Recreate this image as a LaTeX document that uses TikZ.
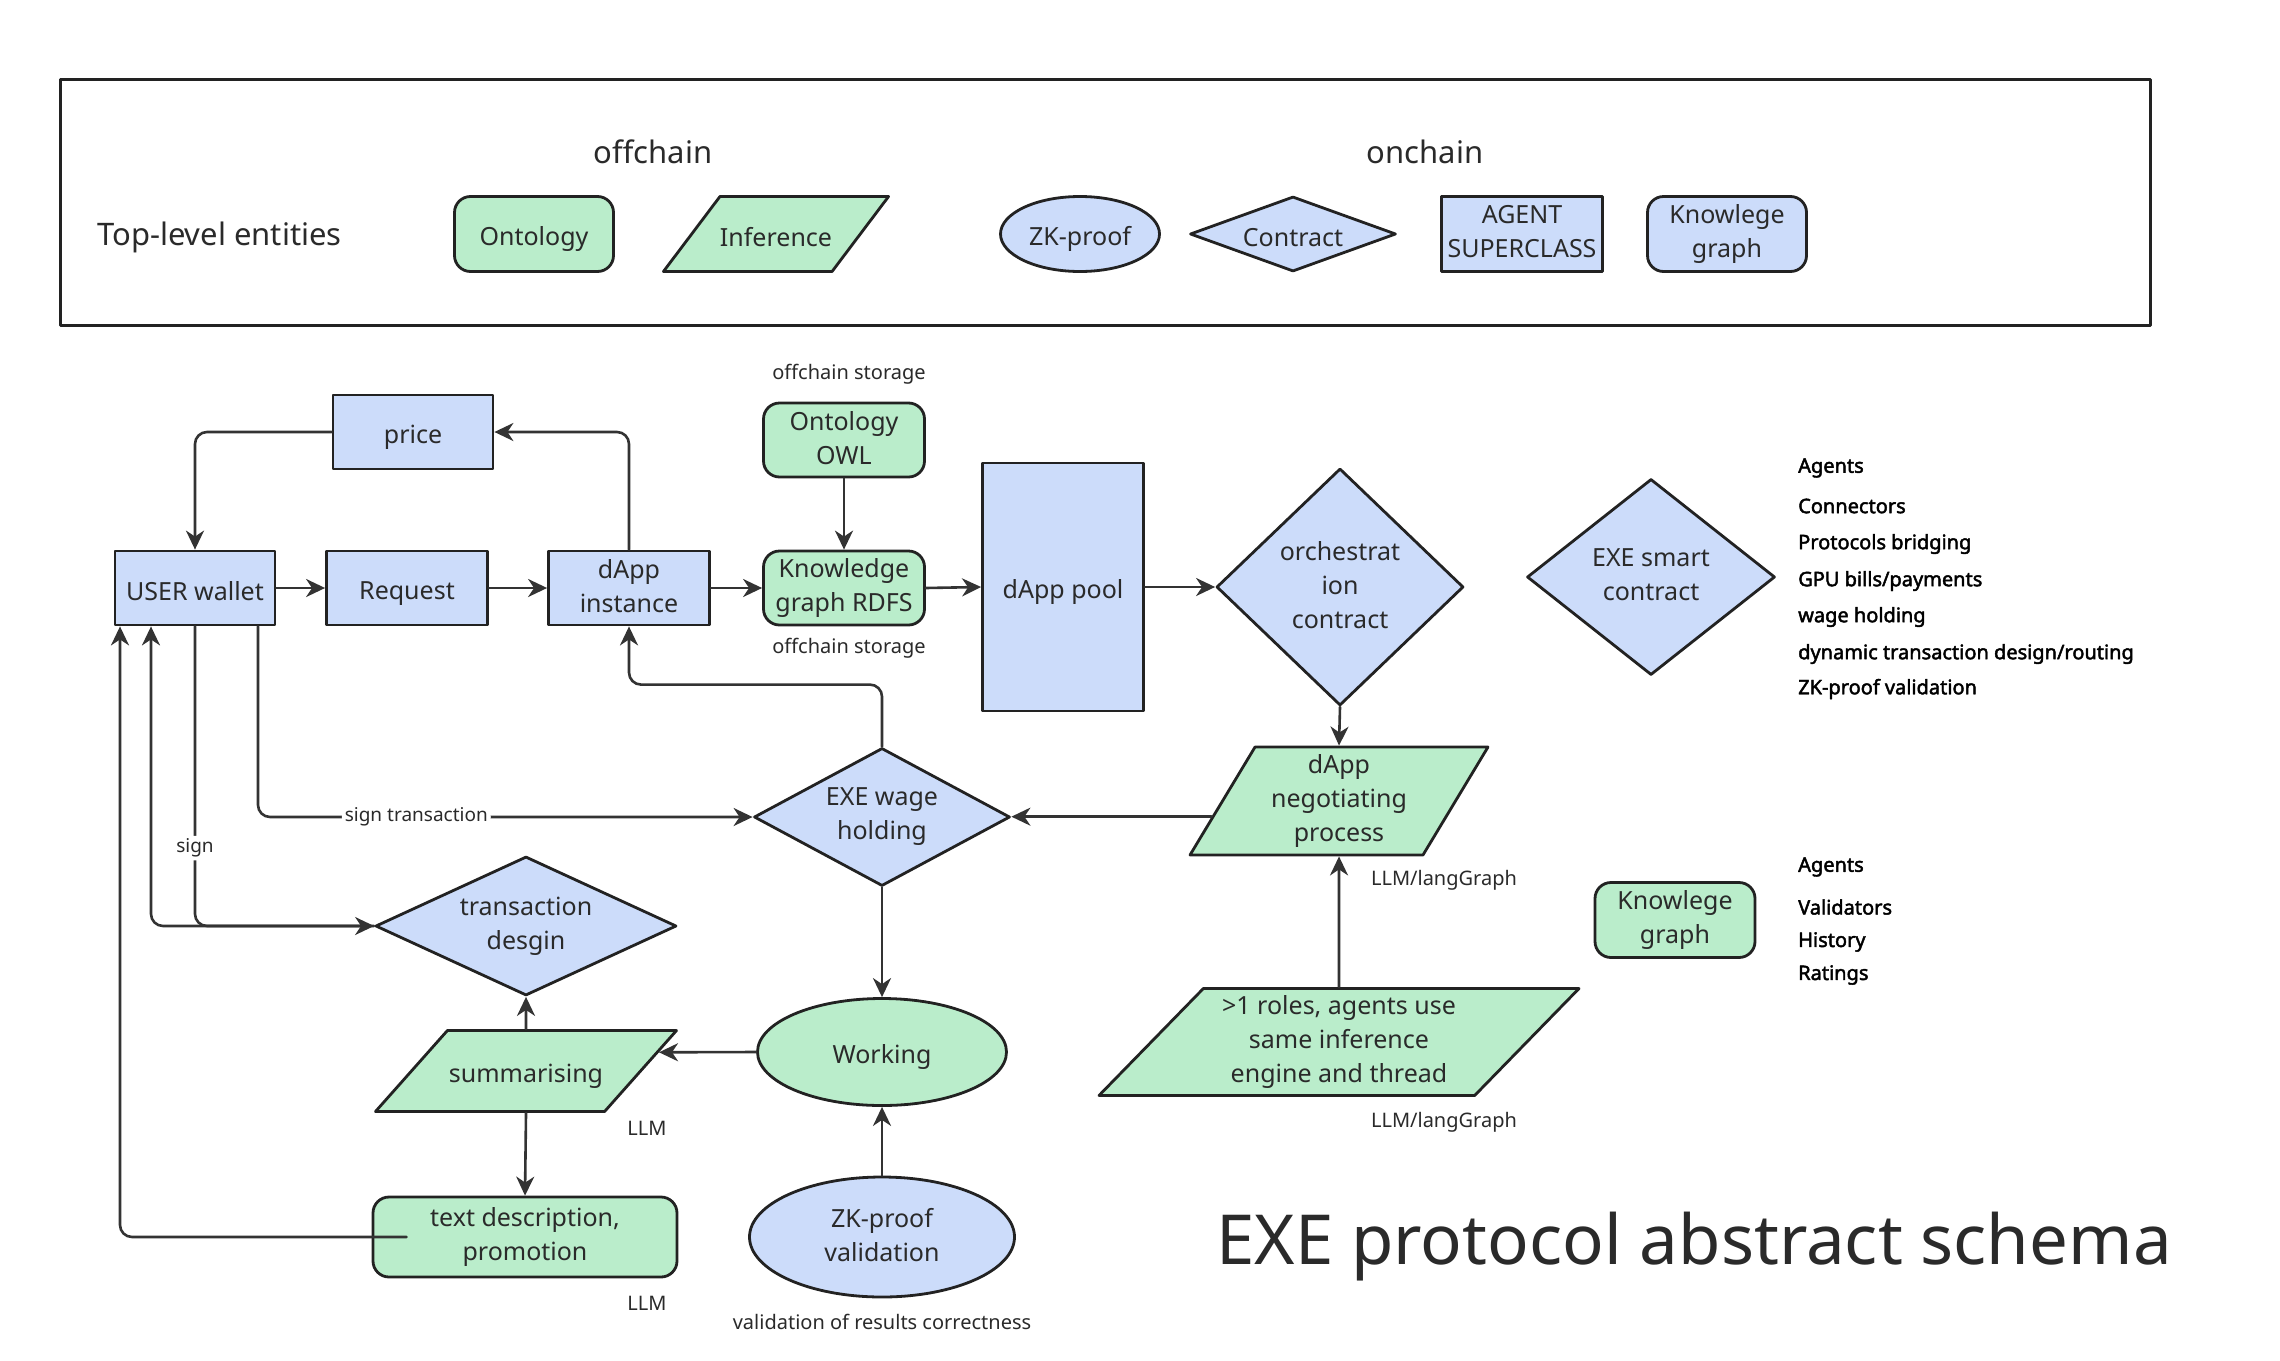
\documentclass[tikz,border=0pt]{standalone}
\usepackage{fontspec}
\setmainfont{Noto Sans}
\newfontfamily\listfont{Noto Sans}[FakeBold=2.2]
\usetikzlibrary{arrows.meta,shapes.geometric,positioning}
\definecolor{exeBlue}{HTML}{CCDCFA}
\definecolor{exeGreen}{HTML}{BAEDCB}
\definecolor{exeEdge}{HTML}{222222}
\definecolor{exeLine}{HTML}{333333}
\definecolor{exeInk}{HTML}{2A2A2A}
\newcommand\exeStrut{\rule[-5pt]{0pt}{34pt}}

\begin{document}
\begin{tikzpicture}[x=1pt,y=-1pt,>=Stealth,line cap=round,line join=round]
\path[fill=white] (0,0) rectangle (2280,1360);
\tikzset{shapebase/.style={draw=exeEdge,line width=2.8pt,text=exeInk,align=center,inner sep=0pt,font=\fontsize{25}{34}\selectfont,execute at begin node=\exeStrut,execute at end node=\exeStrut},
  bluebox/.style={shapebase,fill=exeBlue,rectangle},
  blueround/.style={bluebox,rounded corners=16pt},
  greenround/.style={shapebase,fill=exeGreen,rectangle,rounded corners=16pt},
  bluediamond/.style={shapebase,fill=exeBlue,diamond,shape aspect=#1},
  blueoval/.style={shapebase,fill=exeBlue,ellipse},
  greenoval/.style={shapebase,fill=exeGreen,ellipse},
  greenpara/.style={shapebase,fill=exeGreen,trapezium,/utils/exec={\pgfmathsetmacro\paraRight{180-#1}},trapezium left angle=#1,trapezium right angle=\paraRight,trapezium stretches body},
  link/.style={draw=exeLine,line width=2.6pt,rounded corners=12pt,-{Stealth[length=19pt,width=18pt,inset=6pt]}},
  tag/.style={fill=white,inner sep=3pt,text=exeInk,font=\fontsize{19}{23}\selectfont},
  note/.style={text=exeInk,inner sep=0pt,font=\fontsize{20}{24}\selectfont},
  listitem/.style={anchor=west,text=black,inner sep=0pt,font=\listfont\fontsize{20}{24}\selectfont},
  heading/.style={text=exeInk,inner sep=0pt,font=\fontsize{31}{37}\selectfont}}
% legend
\draw[draw=exeEdge,line width=3pt] (60,79) rectangle (2150,325);
\node[heading,anchor=west] (legTitle) at (97,237) {Top-level entities};
\node[heading] (legOff) at (653,152) {offchain};
\node[heading] (legOn) at (1425,152) {onchain};
\node[greenround,minimum width=159,minimum height=75] (legOnto) at (534,234) {Ontology};
\node[greenpara=53,inner ysep=20.5pt,minimum width=217,minimum height=75] (legInfer) at (776,234) {Inference};
\node[blueoval,minimum width=159,minimum height=75] (legZk) at (1080,234) {ZK-proof};
\node[bluediamond=2.75,minimum width=206,minimum height=75] (legContract) at (1293,234) {Contract};
\node[bluebox,minimum width=161,minimum height=75] (legAgent) at (1522,234) {AGENT\\SUPERCLASS};
\node[blueround,minimum width=159,minimum height=75] (legKg) at (1727,234) {Knowlege\\graph};
% main flow
\node[bluebox,minimum width=160,minimum height=74] (price) at (413,432) {price};
\node[bluebox,minimum width=160,minimum height=74] (wallet) at (195,588) {USER wallet};
\node[bluebox,minimum width=161,minimum height=74] (request) at (407,588) {Request};
\node[bluebox,minimum width=161,minimum height=74] (dapp) at (629,588) {dApp\\instance};
\node[greenround,minimum width=161,minimum height=74] (owl) at (844,440) {Ontology\\OWL};
\node[greenround,minimum width=161,minimum height=74] (kgrdfs) at (844,588) {Knowledge\\graph RDFS};
\node[note] (storTop) at (849,374) {offchain storage};
\node[note] (storBot) at (849,648) {offchain storage};
\node[bluebox,minimum width=161,minimum height=248] (pool) at (1063,587) {dApp pool};
\node[bluediamond=1.04,minimum width=247,minimum height=237] (orch) at (1340,587) {orchestrat\\ion\\contract};
\node[bluediamond=1.27,minimum width=248,minimum height=196] (smart) at (1651,577) {EXE smart\\contract};
\node[bluediamond=1.86,minimum width=256,minimum height=138] (wage) at (882,817) {EXE wage\\holding};
\node[greenpara=56.7,inner ysep=3pt,minimum width=298,minimum height=108] (nego) at (1339,801) {dApp\\negotiating\\process};
\node[note] (lgTop) at (1444,880) {LLM/langGraph};
\node[greenpara=43.2,inner ysep=2.5pt,minimum width=480,minimum height=107] (roles) at (1339,1042) {>1 roles, agents use\\same inference\\engine and thread};
\node[note] (lgBot) at (1444,1122) {LLM/langGraph};
\node[bluediamond=2.17,minimum width=301,minimum height=139] (txd) at (526,926) {transaction\\desgin};
\node[greenpara=48.4,inner ysep=23pt,minimum width=301,minimum height=80] (sum) at (526,1071) {summarising};
\node[note] (llmSum) at (647,1128) {LLM};
\node[greenoval,minimum width=249,minimum height=107] (work) at (882,1052) {Working};
\node[greenround,minimum width=304,minimum height=80] (text) at (525,1237) {text description,\\promotion};
\node[note] (llmText) at (647,1303) {LLM};
\node[blueoval,minimum width=265,minimum height=120] (zkval) at (882,1237) {ZK-proof\\validation};
\node[note] (corr) at (882,1322) {validation of results correctness};
\node[greenround,minimum width=160,minimum height=75] (kgside) at (1675,920) {Knowlege\\graph};
% side lists
\foreach \txt/\yy [count=\i] in {Agents/468,Connectors/506,Protocols bridging/544,{GPU bills/payments}/581,wage holding/617,{dynamic transaction design/routing}/654,ZK-proof validation/689}
  \node[listitem] (scItem\i) at (1798,\yy) {\txt};
\foreach \txt/\yy [count=\i] in {Agents/867,Validators/907,History/942,Ratings/975}
  \node[listitem] (kgItem\i) at (1798,\yy) {\txt};
\node[anchor=base,text=exeInk,inner sep=0pt,font=\fontsize{69}{84}\selectfont] (title) at (1694,1264) {EXE protocol abstract schema};
% connectors
\draw[link] (price.west) -| (wallet.north);
\draw[link] (dapp.north) |- (price.east);
\draw[link] (wallet.east) -- (request.west);
\draw[link] (request.east) -- (dapp.west);
\draw[link] (dapp.east) -- (kgrdfs.west);
\draw[link] (kgrdfs.east) -- (pool.west);
\draw[link] (pool.east) -- (orch.west);
\draw[link] (owl.south) -- (kgrdfs.north);
\draw[link] (orch.south) -- (nego.north);
\draw[link] (nego.187) -- (nego.187 -| wage.east);
\draw[link] (wage.north) -- ++(0,-62) -| (dapp.south);
\draw[link] ([xshift=63pt]wallet.south) |- node[tag,pos=0.66] (signTx) {sign transaction} (wage.west);
\draw[link] (wallet.south) |- node[tag,pos=0.37] (sign) {sign} (txd.west);
\draw[link] (txd.west) -| ([xshift=-44pt]wallet.south);
\draw[link] ([xshift=35pt]text.west) -| ([xshift=-75pt]wallet.south);
\draw[link] (wage.south) -- (work.north);
\draw[link] (work.west) -- (sum.8);
\draw[link] (sum.north) -- (txd.south);
\draw[link] (sum.south) -- (text.north);
\draw[link] (zkval.north) -- (work.south);
\draw[link] (roles.north) -- (nego.south);
\end{tikzpicture}
\end{document}
